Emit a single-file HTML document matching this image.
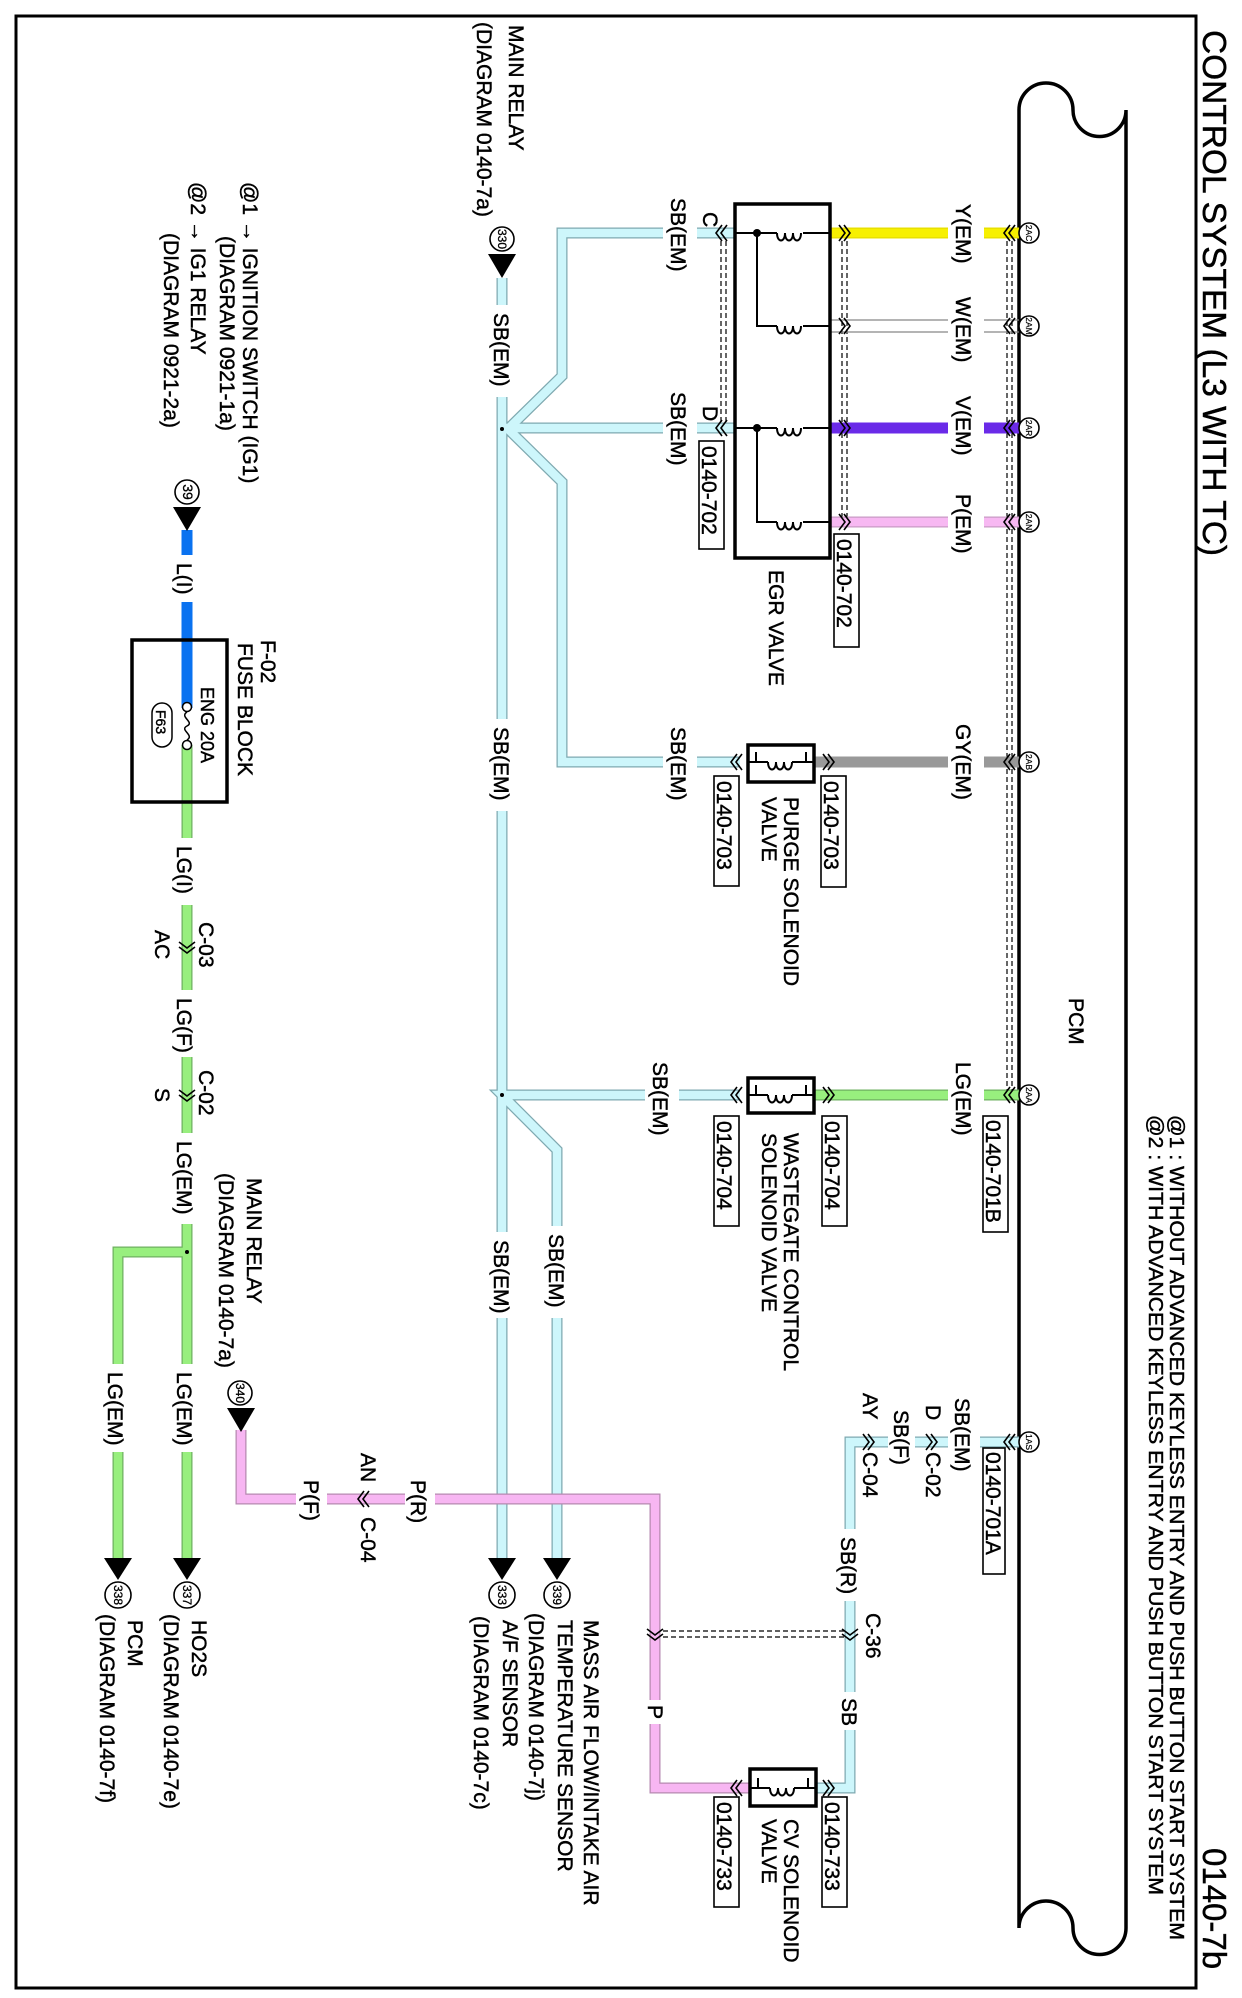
<!DOCTYPE html>
<html><head><meta charset="utf-8"><style>html,body{margin:0;padding:0;background:#fff}svg{display:block}</style></head>
<body>
<svg width="1242" height="1998" viewBox="0 0 1242 1998" xmlns="http://www.w3.org/2000/svg" font-family="Liberation Sans, Arial, sans-serif">
<rect x="0" y="0" width="1242" height="1998" fill="#fff"/>
<rect x="16" y="16" width="1180" height="1972" fill="none" stroke="#000" stroke-width="3"/>

<path d="M1019,1928 L1019,110 A27,27 0 0 1 1073,110 A26.5,26.5 0 0 0 1126,110 L1126,1928 A26.5,26.5 0 0 1 1073,1928 A27,27 0 0 0 1019,1928" fill="none" stroke="#000" stroke-width="3.5"/>

<g stroke="#000" stroke-width="1.2" stroke-dasharray="5,3" fill="none">
<path d="M1007,233 V1095 M1012,233 V1095"/>
<path d="M842,233 V522 M847,233 V522"/>
<path d="M721,233 V428 M726,233 V428"/>
<path d="M655,1631 H850 M655,1637 H850"/>
</g>

<g fill="none" stroke-linejoin="miter">
<g stroke="#7fa9b0" stroke-width="11">
<path d="M735,233 L562,233 L562,376 L508,429 L562,482 L562,762 L740,762"/>
<path d="M735,428 L502,428"/>
<path d="M502,278 L502,1558"/>
<path d="M740,1095 L502,1095 L557,1150 L557,1558"/>
<path d="M817,1788 L850,1788 L850,1442 L1019,1442"/>
</g>
<g stroke="#cdf6fb" stroke-width="8.5">
<path d="M735,233 L562,233 L562,376 L508,429 L562,482 L562,762 L740,762"/>
<path d="M735,428 L502,428"/>
<path d="M502,278 L502,1558"/>
<path d="M740,1095 L502,1095 L557,1150 L557,1558"/>
<path d="M817,1788 L850,1788 L850,1442 L1019,1442"/>
</g>
<path d="M241,1430 L241,1499 L655,1499 L655,1788 L750,1788" stroke="#b58ab0" stroke-width="11"/>
<path d="M241,1430 L241,1499 L655,1499 L655,1788 L750,1788" stroke="#f7b6f2" stroke-width="8.5"/>
<path d="M187,745 L187,1558 M187,1252 L118,1252 L118,1558" stroke="#6fb060" stroke-width="11"/>
<path d="M187,745 L187,1558 M187,1252 L118,1252 L118,1558" stroke="#98ef7e" stroke-width="8.5"/>
<path d="M187,530 L187,708" stroke="#0a72f0" stroke-width="11"/>
<path d="M830,233 H1019" stroke="#e8e000" stroke-width="11"/>
<path d="M830,233 H1019" stroke="#f7f000" stroke-width="8"/>
<path d="M830,320 H1019 M830,332 H1019" stroke="#888" stroke-width="1.3"/>
<path d="M830,428 H1019" stroke="#6a2ae8" stroke-width="11"/>
<path d="M830,522 H1019" stroke="#c99ac4" stroke-width="11"/>
<path d="M830,522 H1019" stroke="#f7b8f2" stroke-width="8.5"/>
<path d="M814,762 H1019" stroke="#999" stroke-width="11"/>
<path d="M814,1095 H1019" stroke="#6fb060" stroke-width="11"/>
<path d="M814,1095 H1019" stroke="#98ef7e" stroke-width="8.5"/>
</g>

<g fill="#fff">
<rect x="948" y="220" width="36" height="330"/>
<rect x="948" y="750" width="36" height="25"/>
<rect x="948" y="1083" width="36" height="25"/>
<rect x="948" y="1430" width="32" height="25"/>
<rect x="888" y="1430" width="27" height="25"/>
<rect x="663" y="220" width="34" height="25"/>
<rect x="663" y="415" width="34" height="25"/>
<rect x="663" y="750" width="34" height="25"/>
<rect x="645" y="1083" width="34" height="25"/>
<rect x="488" y="305" width="30" height="92"/>
<rect x="488" y="719" width="30" height="92"/>
<rect x="488" y="1232" width="30" height="86"/>
<rect x="543" y="1226" width="30" height="92"/>
<rect x="172" y="555" width="30" height="47"/>
<rect x="172" y="838" width="30" height="67"/>
<rect x="172" y="990" width="30" height="67"/>
<rect x="172" y="1133" width="30" height="91"/>
<rect x="172" y="1364" width="30" height="88"/>
<rect x="103" y="1364" width="30" height="88"/>
<rect x="296" y="1485" width="31" height="28"/>
<rect x="405" y="1485" width="30" height="28"/>
<rect x="836" y="1529" width="30" height="72"/>
<rect x="836" y="1692" width="30" height="38"/>
<rect x="641" y="1700" width="30" height="24"/>
</g>

<g fill="none" stroke="#000" stroke-width="1.6">
<path d="M839,225 L845,233 L839,241 M844,225 L850,233 L844,241"/>
<path d="M839,318 L845,326 L839,334 M844,318 L850,326 L844,334"/>
<path d="M839,420 L845,428 L839,436 M844,420 L850,428 L844,436"/>
<path d="M839,514 L845,522 L839,530 M844,514 L850,522 L844,530"/>
<path d="M823,754 L829,762 L823,770 M828,754 L834,762 L828,770"/>
<path d="M823,1087 L829,1095 L823,1103 M828,1087 L834,1095 L828,1103"/>
<path d="M823,1780 L829,1788 L823,1796 M828,1780 L834,1788 L828,1796"/>
<path d="M863,1434 L869,1442 L863,1450 M868,1434 L874,1442 L868,1450"/>
<path d="M926,1434 L932,1442 L926,1450 M931,1434 L937,1442 L931,1450"/>
<path d="M1010,225 L1004,233 L1010,241 M1015,225 L1009,233 L1015,241"/>
<path d="M1010,318 L1004,326 L1010,334 M1015,318 L1009,326 L1015,334"/>
<path d="M1010,420 L1004,428 L1010,436 M1015,420 L1009,428 L1015,436"/>
<path d="M1010,514 L1004,522 L1010,530 M1015,514 L1009,522 L1015,530"/>
<path d="M1010,754 L1004,762 L1010,770 M1015,754 L1009,762 L1015,770"/>
<path d="M1010,1087 L1004,1095 L1010,1103 M1015,1087 L1009,1095 L1015,1103"/>
<path d="M1010,1434 L1004,1442 L1010,1450 M1015,1434 L1009,1442 L1015,1450"/>
<path d="M722,225 L716,233 L722,241 M727,225 L721,233 L727,241"/>
<path d="M722,420 L716,428 L722,436 M727,420 L721,428 L727,436"/>
<path d="M737,754 L731,762 L737,770 M742,754 L736,762 L742,770"/>
<path d="M737,1087 L731,1095 L737,1103 M742,1087 L736,1095 L742,1103"/>
<path d="M737,1780 L731,1788 L737,1796 M742,1780 L736,1788 L742,1796"/>
<path d="M364,1491 L358,1499 L364,1507 M369,1491 L363,1499 L369,1507"/>
<path d="M179,942 L187,948 L195,942 M179,947 L187,953 L195,947"/>
<path d="M179,1090 L187,1096 L195,1090 M179,1095 L187,1101 L195,1095"/>
<path d="M842,1629 L850,1635 L858,1629 M842,1634 L850,1640 L858,1634"/>
<path d="M647,1629 L655,1635 L663,1629 M647,1634 L655,1640 L663,1634"/>
</g>

<rect x="735" y="204" width="95" height="354" fill="none" stroke="#000" stroke-width="3.5"/>
<g fill="none" stroke="#000" stroke-width="2">
<path d="M735,233 H777 M803,233 H830 M757,233 V326 H777 M803,326 H830"/>
<path d="M735,428 H777 M803,428 H830 M757,428 V522 H777 M803,522 H830"/>
<path d="M777,233 c0,10 8,10 8,0 c0,10 8,10 8,0 c0,10 8,10 8,0 M777,326 c0,10 8,10 8,0 c0,10 8,10 8,0 c0,10 8,10 8,0 M777,428 c0,10 8,10 8,0 c0,10 8,10 8,0 c0,10 8,10 8,0 M777,522 c0,10 8,10 8,0 c0,10 8,10 8,0 c0,10 8,10 8,0"/>
</g>
<circle cx="757" cy="233" r="4" fill="#000"/><circle cx="757" cy="428" r="4" fill="#000"/>
<circle cx="502" cy="429" r="2" fill="#000"/><circle cx="502" cy="1095" r="2" fill="#000"/><circle cx="187" cy="1252" r="2" fill="#000"/>

<g fill="#fff" stroke="#000" stroke-width="3.5">
<rect x="748" y="745" width="66" height="37"/>
<rect x="748" y="1078" width="66" height="35"/>
<rect x="750" y="1769" width="66" height="37"/>
</g>
<g fill="none" stroke="#000" stroke-width="2">
<path d="M748,762 H756 V752 M756,762 H768 M792,762 H806 V752 M806,762 H814"/>
<path d="M768,762 c0,10 8,10 8,0 c0,10 8,10 8,0 c0,10 8,10 8,0"/>
<path d="M748,1095 H756 V1085 M756,1095 H768 M792,1095 H806 V1085 M806,1095 H814"/>
<path d="M768,1095 c0,10 8,10 8,0 c0,10 8,10 8,0 c0,10 8,10 8,0"/>
<path d="M750,1788 H758 V1778 M758,1788 H770 M794,1788 H808 V1778 M808,1788 H816"/>
<path d="M770,1788 c0,10 8,10 8,0 c0,10 8,10 8,0 c0,10 8,10 8,0"/>
</g>

<rect x="132" y="640" width="95" height="162" fill="none" stroke="#000" stroke-width="3.5"/>
<circle cx="187" cy="707" r="4.5" fill="#fff" stroke="#000" stroke-width="1.5"/>
<circle cx="187" cy="745" r="4.5" fill="#fff" stroke="#000" stroke-width="1.5"/>
<path d="M187,712 c-8,5 8,10 0,14 c-8,4 8,9 0,14" fill="none" stroke="#000" stroke-width="1.5"/>
<rect x="152" y="703" width="20" height="44" rx="10" fill="none" stroke="#000" stroke-width="1.5"/>

<g fill="#000">
<path d="M488,254 L516,254 L502,278 Z"/>
<path d="M173,507 L201,507 L187,531 Z"/>
<path d="M227,1408 L255,1408 L241,1432 Z"/>
<path d="M488,1558 L516,1558 L502,1580 Z"/>
<path d="M543,1558 L571,1558 L557,1580 Z"/>
<path d="M173,1558 L201,1558 L187,1580 Z"/>
<path d="M104,1558 L132,1558 L118,1580 Z"/>
</g>

<g fill="#fff" stroke="#000" stroke-width="1.6">
<circle cx="502" cy="239" r="12"/><circle cx="187" cy="492" r="12"/><circle cx="240" cy="1393" r="12"/>
<circle cx="557" cy="1595" r="13"/><circle cx="502" cy="1595" r="13"/><circle cx="187" cy="1595" r="13"/><circle cx="118" cy="1595" r="13"/>
<circle cx="1029" cy="233" r="10"/><circle cx="1029" cy="326" r="10"/><circle cx="1029" cy="428" r="10"/><circle cx="1029" cy="522" r="10"/>
<circle cx="1029" cy="762" r="10"/><circle cx="1029" cy="1095" r="10"/><circle cx="1029" cy="1442" r="10"/>
</g>
<g font-size="12" text-anchor="middle" stroke="#000" stroke-width="0.3">
<text transform="translate(502,239) rotate(90)" dy="4">330</text>
<text transform="translate(187,492) rotate(90)" dy="4" font-size="14">39</text>
<text transform="translate(240,1393) rotate(90)" dy="4">340</text>
<text transform="translate(557,1595) rotate(90)" dy="4">339</text>
<text transform="translate(502,1595) rotate(90)" dy="4">333</text>
<text transform="translate(187,1595) rotate(90)" dy="4">337</text>
<text transform="translate(118,1595) rotate(90)" dy="4">338</text>
</g>
<g font-size="8.5" text-anchor="middle" stroke="#000" stroke-width="0.2">
<text transform="translate(1029,233) rotate(90)" dy="3">2AC</text>
<text transform="translate(1029,326) rotate(90)" dy="3">2AM</text>
<text transform="translate(1029,428) rotate(90)" dy="3">2AR</text>
<text transform="translate(1029,522) rotate(90)" dy="3">2AN</text>
<text transform="translate(1029,762) rotate(90)" dy="3">2AB</text>
<text transform="translate(1029,1095) rotate(90)" dy="3">2AA</text>
<text transform="translate(1029,1442) rotate(90)" dy="3">1AS</text>
</g>

<g fill="none" stroke="#000" stroke-width="1.6">
<rect x="699" y="441" width="25" height="108"/>
<rect x="834" y="534" width="25" height="113"/>
<rect x="714" y="776" width="25" height="110"/>
<rect x="821" y="776" width="25" height="111"/>
<rect x="714" y="1116" width="25" height="110"/>
<rect x="822" y="1116" width="25" height="110"/>
<rect x="714" y="1797" width="25" height="110"/>
<rect x="822" y="1797" width="25" height="110"/>
<rect x="983" y="1116" width="25" height="116"/>
<rect x="983" y="1448" width="22" height="126"/>
</g>

<g font-size="21" fill="#000" stroke="#000" stroke-width="0.45">
<text transform="translate(1203,30) rotate(90)" font-size="33" textLength="526" lengthAdjust="spacingAndGlyphs">CONTROL SYSTEM (L3 WITH TC)</text>
<text transform="translate(1203,1848) rotate(90)" font-size="33">0140-7b</text>
<text transform="translate(1170,1115) rotate(90)" font-size="20" textLength="825" lengthAdjust="spacingAndGlyphs">@1 : WITHOUT ADVANCED KEYLESS ENTRY AND PUSH BUTTON START SYSTEM</text>
<text transform="translate(1149,1115) rotate(90)" font-size="20" textLength="780" lengthAdjust="spacingAndGlyphs">@2 : WITH ADVANCED KEYLESS ENTRY AND PUSH BUTTON START SYSTEM</text>
<text transform="translate(1069,998) rotate(90)">PCM</text>

<text transform="translate(956,204) rotate(90)">Y(EM)</text>
<text transform="translate(956,297) rotate(90)">W(EM)</text>
<text transform="translate(956,396) rotate(90)">V(EM)</text>
<text transform="translate(956,494) rotate(90)">P(EM)</text>
<text transform="translate(956,724) rotate(90)">GY(EM)</text>
<text transform="translate(956,1062) rotate(90)">LG(EM)</text>
<text transform="translate(955,1398) rotate(90)">SB(EM)</text>
<text transform="translate(926,1405) rotate(90)">D</text>
<text transform="translate(926,1452) rotate(90)">C-02</text>
<text transform="translate(894,1410) rotate(90)">SB(F)</text>
<text transform="translate(863,1393) rotate(90)">AY</text>
<text transform="translate(863,1452) rotate(90)">C-04</text>
<text transform="translate(841,1537) rotate(90)">SB(R)</text>
<text transform="translate(866,1613) rotate(90)">C-36</text>
<text transform="translate(842,1698) rotate(90)">SB</text>
<text transform="translate(648,1705) rotate(90)">P</text>

<text transform="translate(986,1120) rotate(90)">0140-701B</text>
<text transform="translate(986,1452) rotate(90)">0140-701A</text>
<text transform="translate(702,446) rotate(90)">0140-702</text>
<text transform="translate(837,539) rotate(90)">0140-702</text>
<text transform="translate(717,781) rotate(90)">0140-703</text>
<text transform="translate(824,781) rotate(90)">0140-703</text>
<text transform="translate(717,1121) rotate(90)">0140-704</text>
<text transform="translate(825,1121) rotate(90)">0140-704</text>
<text transform="translate(717,1802) rotate(90)">0140-733</text>
<text transform="translate(825,1802) rotate(90)">0140-733</text>

<text transform="translate(671,198) rotate(90)">SB(EM)</text>
<text transform="translate(703,212) rotate(90)">C</text>
<text transform="translate(671,392) rotate(90)">SB(EM)</text>
<text transform="translate(703,406) rotate(90)">D</text>
<text transform="translate(671,727) rotate(90)">SB(EM)</text>
<text transform="translate(653,1062) rotate(90)">SB(EM)</text>
<text transform="translate(494,313) rotate(90)">SB(EM)</text>
<text transform="translate(494,727) rotate(90)">SB(EM)</text>
<text transform="translate(494,1240) rotate(90)">SB(EM)</text>
<text transform="translate(549,1234) rotate(90)">SB(EM)</text>

<text transform="translate(769,570) rotate(90)">EGR VALVE</text>
<text transform="translate(784,797) rotate(90)">PURGE SOLENOID</text>
<text transform="translate(762,797) rotate(90)">VALVE</text>
<text transform="translate(784,1133) rotate(90)">WASTEGATE CONTROL</text>
<text transform="translate(762,1133) rotate(90)">SOLENOID VALVE</text>
<text transform="translate(784,1819) rotate(90)">CV SOLENOID</text>
<text transform="translate(762,1819) rotate(90)">VALVE</text>

<text transform="translate(509,25) rotate(90)">MAIN RELAY</text>
<text transform="translate(477,22) rotate(90)">(DIAGRAM 0140-7a)</text>
<text transform="translate(243,182) rotate(90)">@1 → IGNITION SWITCH (IG1)</text>
<text transform="translate(220,236) rotate(90)">(DIAGRAM 0921-1a)</text>
<text transform="translate(191,182) rotate(90)">@2 → IG1 RELAY</text>
<text transform="translate(164,233) rotate(90)">(DIAGRAM 0921-2a)</text>

<text transform="translate(177,563) rotate(90)">L(I)</text>
<text transform="translate(261,640) rotate(90)">F-02</text>
<text transform="translate(238,643) rotate(90)">FUSE BLOCK</text>
<text transform="translate(201,687) rotate(90)" font-size="18">ENG 20A</text>
<text transform="translate(156,710) rotate(90)" font-size="14">F63</text>
<text transform="translate(177,846) rotate(90)">LG(I)</text>
<text transform="translate(199,922) rotate(90)">C-03</text>
<text transform="translate(155,930) rotate(90)">AC</text>
<text transform="translate(177,998) rotate(90)">LG(F)</text>
<text transform="translate(199,1070) rotate(90)">C-02</text>
<text transform="translate(155,1088) rotate(90)">S</text>
<text transform="translate(177,1141) rotate(90)">LG(EM)</text>
<text transform="translate(177,1372) rotate(90)">LG(EM)</text>
<text transform="translate(108,1372) rotate(90)">LG(EM)</text>

<text transform="translate(247,1178) rotate(90)">MAIN RELAY</text>
<text transform="translate(219,1173) rotate(90)">(DIAGRAM 0140-7a)</text>
<text transform="translate(304,1480) rotate(90)">P(F)</text>
<text transform="translate(361,1453) rotate(90)">AN</text>
<text transform="translate(361,1517) rotate(90)">C-04</text>
<text transform="translate(411,1480) rotate(90)">P(R)</text>

<text transform="translate(584,1620) rotate(90)">MASS AIR FLOW/INTAKE AIR</text>
<text transform="translate(558,1620) rotate(90)">TEMPERATURE SENSOR</text>
<text transform="translate(529,1613) rotate(90)">(DIAGRAM 0140-7j)</text>
<text transform="translate(503,1620) rotate(90)">A/F SENSOR</text>
<text transform="translate(474,1616) rotate(90)">(DIAGRAM 0140-7c)</text>
<text transform="translate(192,1620) rotate(90)">HO2S</text>
<text transform="translate(164,1614) rotate(90)">(DIAGRAM 0140-7e)</text>
<text transform="translate(128,1620) rotate(90)">PCM</text>
<text transform="translate(100,1614) rotate(90)">(DIAGRAM 0140-7f)</text>
</g>
</svg>
</body></html>
